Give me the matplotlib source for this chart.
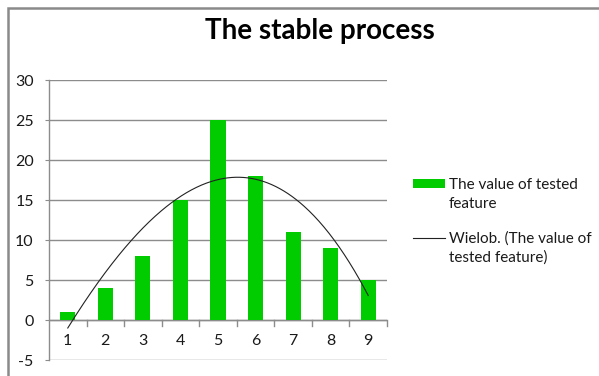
import numpy as np
import matplotlib
matplotlib.use("Agg")
import matplotlib.pyplot as plt
from matplotlib.patches import Rectangle
from matplotlib.lines import Line2D

plt.rcParams['font.family'] = ['Lato', 'DejaVu Sans']

# Measured feature values per sample
samples = [1, 2, 3, 4, 5, 6, 7, 8, 9]
values = [1, 4, 8, 15, 25, 18, 11, 9, 5]
y_ticks = [-5, 0, 5, 10, 15, 20, 25, 30]
title = "The stable process"
bar_label = "The value of tested\nfeature"
trend_label = "Wielob. (The value of\ntested feature)"

W, H = 599, 376
fig = plt.figure(figsize=(W / 100, H / 100), dpi=100)
fig.patch.set_facecolor('white')


def fx(px):
    return px / W


def fy(py):
    return 1 - py / H


bar_c = '#00cc00'
line_c = '#222222'
grid_c = '#8c8c8c'
text_c = '#1a1a1a'

# chart frame (runs off the right and bottom edges)
fig.patches.append(Rectangle((fx(7.5), -0.05), 1.2, fy(8) + 0.05,
                             transform=fig.transFigure, fill=False,
                             edgecolor='#8a8a8a', linewidth=1.8))

ax = fig.add_axes([fx(49), fy(360), fx(387) - fx(49), fy(80) - fy(360)])

ax.bar(samples, values, width=0.4, color=bar_c, zorder=3)

# 3rd-order polynomial trend line fitted to the values
coef = np.polyfit(samples, values, 3)
xs = np.linspace(samples[0], samples[-1], 300)
ax.plot(xs, np.polyval(coef, xs), color=line_c, linewidth=0.8, zorder=4)

ax.set_xlim(0.5, 9.5)
ax.set_ylim(-5, 30)
ax.set_yticks(y_ticks)
ax.set_yticklabels([str(v) for v in y_ticks], fontsize=11.5, color=text_c)
ax.yaxis.grid(True, color=grid_c, linewidth=1, zorder=0)
ax.tick_params(axis='y', length=3, color=grid_c, pad=8)

for s in ['top', 'right', 'bottom']:
    ax.spines[s].set_visible(False)
ax.spines['left'].set_color(grid_c)
ax.spines['left'].set_linewidth(1)

# category axis sits on y = 0
ax.set_xticks([])
ax.axhline(0, color=grid_c, linewidth=1, zorder=2)
for b in np.arange(1.5, 10, 1.0):
    ax.plot([b, b], [0, -0.7], color=grid_c, linewidth=1, clip_on=False, zorder=2)
for s in samples:
    ax.text(s, -2.6, str(s), ha='center', va='center', fontsize=11.5, color=text_c)

fig.text(fx(320), fy(31), title, ha='center', va='center',
         fontsize=20, fontweight='bold', color='black')

# legend: key aligned with the first line of each label
fig.patches.append(Rectangle((fx(413), fy(188)), fx(445) - fx(413), fy(179) - fy(188),
                             transform=fig.transFigure, facecolor=bar_c,
                             edgecolor='none'))
fig.lines.append(Line2D([fx(413), fx(445)], [fy(238), fy(238)],
                        transform=fig.transFigure, color=line_c, linewidth=0.8))
for label, first_base in [(bar_label, 189), (trend_label, 243)]:
    for i, line in enumerate(label.split('\n')):
        fig.text(fx(449), fy(first_base + 19 * i), line, ha='left',
                 va='baseline', fontsize=11, color=text_c)

fig.savefig('out.png', dpi=100, facecolor='white')
